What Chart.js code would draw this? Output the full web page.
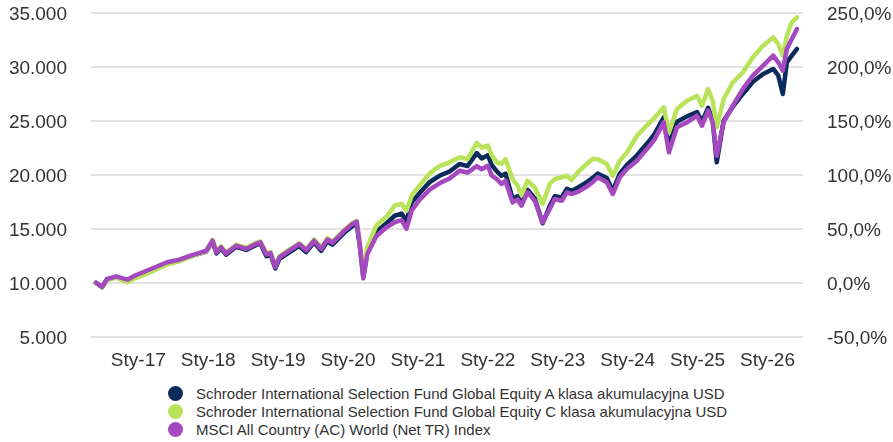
<!DOCTYPE html>
<html>
<head>
<meta charset="utf-8">
<script src="https://cdn.jsdelivr.net/npm/chart.js@4/dist/chart.umd.min.js"></script>
<style>
  html, body { margin: 0; padding: 0; background: #fff; }
  #wrap { position: relative; width: 893px; height: 442px; overflow: hidden; }
  #box { position: absolute; left: 0; top: 0; width: 893px; height: 378px; }
  #legend { position: absolute; left: 167.5px; top: 384.3px; font-family: 'Liberation Sans', Arial, sans-serif; font-size: 15px; color: #333; }
  .row { display: flex; align-items: center; height: 18px; white-space: nowrap; }
  .dot { width: 15px; height: 15px; border-radius: 50%; margin-right: 13.5px; flex: none; }
</style>
</head>
<body>
<div id="wrap">
  <div id="box"><canvas id="c"></canvas></div>
  <div id="legend"></div>
</div>
<script>
// ---- data ----
const seriesNames = [
  'Schroder International Selection Fund Global Equity A klasa akumulacyjna USD',
  'Schroder International Selection Fund Global Equity C klasa akumulacyjna USD',
  'MSCI All Country (AC) World (Net TR) Index'
];
const seriesColors = ['#0b2b5c', '#b8e35a', '#a449bf'];

const dates = [
  '2016-05-24','2016-06-25','2016-07-21','2016-09-07','2016-11-04','2016-12-21',
  '2017-03-08','2017-05-31','2017-08-02','2017-10-09','2017-12-22',
  '2018-01-23','2018-02-13','2018-03-09','2018-04-04','2018-05-27','2018-07-18','2018-09-09','2018-09-30','2018-11-01','2018-11-22','2018-12-17',
  '2019-01-08','2019-02-28','2019-04-21','2019-05-27','2019-07-08','2019-08-14','2019-09-15','2019-10-11','2019-11-01','2019-12-13',
  '2020-01-24','2020-02-15','2020-03-01','2020-03-21','2020-04-11','2020-05-28','2020-07-20','2020-09-01','2020-10-07','2020-11-02','2020-11-29',
  '2021-01-10','2021-03-02','2021-04-23','2021-06-15','2021-08-06','2021-09-17','2021-11-04','2021-11-30',
  '2022-01-01','2022-01-21','2022-02-17','2022-03-13','2022-04-03','2022-05-10','2022-06-05','2022-06-26','2022-07-27','2022-09-03','2022-10-14','2022-11-20','2022-12-16',
  '2023-01-22','2023-02-18','2023-03-14','2023-04-15','2023-06-01','2023-07-02','2023-07-28','2023-09-14','2023-10-15','2023-11-21','2023-12-28',
  '2024-02-19','2024-04-26','2024-05-22','2024-07-08','2024-08-04','2024-09-15','2024-11-07','2024-12-29',
  '2025-01-24','2025-02-25','2025-03-21','2025-04-11','2025-05-17','2025-07-04','2025-08-26','2025-10-17','2025-12-09',
  '2026-01-31','2026-02-26','2026-03-22','2026-04-12','2026-05-08','2026-06-04'
];

const fundA = [
  10000,9580,10300,10520,10150,10600,
  11150,11780,12040,12480,12880,
  13830,12720,13200,12600,13330,13030,13500,13640,12450,12600,11330,
  12200,12800,13400,12840,13740,12950,13840,13520,13880,14640,
  15250,15450,13600,10550,12900,14700,15500,16200,16400,15700,17440,
  18300,19300,19900,20300,20990,20800,22000,21500,
  21800,20900,20300,19900,20100,17800,18000,17300,18600,17800,15500,17100,18000,
  17900,18700,18500,18800,19300,19700,20100,19700,18500,20100,20900,
  21800,23200,23800,25300,22700,24900,25400,25800,
  24900,26200,25000,21150,25000,26300,27500,28600,29330,
  29790,29200,27470,30400,31020,31640
];

const fundC = [
  10000,9560,10250,10470,10050,10450,
  11000,11680,11990,12450,12900,
  13950,12900,13380,12800,13520,13250,13700,13820,12700,12850,11560,
  12450,13060,13650,13100,14000,13250,14100,13800,14150,14900,
  15520,15720,13900,10800,13300,15300,16100,17130,17300,16670,18060,
  19000,20100,20800,21150,21610,21450,22950,22500,
  22690,21800,21150,21000,21450,19600,19000,18100,19440,18800,17290,19140,19600,
  19760,19900,19500,20220,21000,21450,21450,21000,19910,21300,22070,
  23610,24850,25300,26240,23930,26080,26850,27310,
  26390,27940,26850,24390,27010,28550,29480,30870,31950,
  32720,32100,31020,32870,34110,34570
];

const msciAcwi = [
  10000,9600,10340,10590,10280,10710,
  11270,11890,12130,12560,12960,
  13900,12810,13280,12700,13430,13120,13600,13740,12600,12750,11450,
  12350,12960,13580,13000,13890,13120,14000,13700,14050,14820,
  15440,15650,13740,10400,12660,14300,15130,15600,15800,15000,16670,
  17700,18600,19200,19650,20370,20200,20800,20500,
  20830,19910,19600,19140,19440,17440,17700,17130,18370,17590,15590,16820,17750,
  17590,18370,18210,18400,18900,19300,19760,19300,18210,19760,20530,
  21300,22700,23300,24850,22070,24390,24850,25460,
  24540,25930,24850,21760,24850,26390,27940,29170,30100,
  31020,30410,29630,31640,32570,33490
];

const tickYears = [2017,2018,2019,2020,2021,2022,2023,2024,2025,2026];
const tickPrefix = 'Sty-';
const leftTicks = [5000,10000,15000,20000,25000,30000,35000];
const rightTicks = [-50,0,50,100,150,200,250];

// ---- helpers ----
function toYear(s) {
  const [y, m, d] = s.split('-').map(Number);
  const t = Date.UTC(y, m - 1, d);
  const t0 = Date.UTC(y, 0, 1), t1 = Date.UTC(y + 1, 0, 1);
  return y + (t - t0) / (t1 - t0);
}
const xs = dates.map(toYear);
function pts(arr) { return arr.map((v, i) => ({ x: xs[i], y: v })); }
function fmtThousands(v) { return String(v).replace(/\B(?=(\d{3})+(?!\d))/g, '.'); }

const allSeries = [fundA, fundC, msciAcwi];
const drawOrder = [3, 2, 1]; // purple on top

Chart.defaults.font.family = "'Liberation Sans', Arial, sans-serif";
Chart.defaults.font.size = 19;
Chart.defaults.color = '#333333';

const datasets = allSeries.map((arr, i) => ({
  label: seriesNames[i],
  data: pts(arr),
  borderColor: seriesColors[i],
  backgroundColor: seriesColors[i],
  borderWidth: 4.5,
  pointRadius: 0,
  tension: 0,
  borderJoinStyle: 'round',
  borderCapStyle: 'round',
  order: drawOrder[i],
  yAxisID: 'y'
}));

function fitVertical(width) {
  return (axis) => {
    axis.width = width;
    axis.paddingTop = 0;
    axis.paddingBottom = 0;
  };
}

new Chart(document.getElementById('c'), {
  type: 'line',
  data: { datasets },
  options: {
    responsive: true,
    maintainAspectRatio: false,
    animation: false,
    layout: { padding: { top: 12.7, left: 0, right: 0, bottom: 0 } },
    plugins: { legend: { display: false }, tooltip: { enabled: false } },
    scales: {
      x: {
        type: 'linear',
        min: 2016.323,
        max: 2026.508,
        grid: { display: false, drawTicks: false },
        border: { display: false },
        afterBuildTicks: (axis) => { axis.ticks = tickYears.map(v => ({ value: v })); },
        afterFit: (axis) => { axis.height = 41.3; axis.paddingLeft = 0; axis.paddingRight = 0; },
        ticks: {
          padding: 13,
          maxRotation: 0,
          autoSkip: false,
          callback: (v) => tickPrefix + String(v).slice(2)
        }
      },
      y: {
        position: 'left',
        min: 5000,
        max: 35000,
        afterBuildTicks: (axis) => { axis.ticks = leftTicks.map(v => ({ value: v })); },
        afterFit: fitVertical(91),
        grid: { color: '#e3e3e3', lineWidth: 2, drawTicks: false },
        border: { display: false },
        ticks: { padding: 24, labelOffset: 2, callback: (v) => fmtThousands(v) }
      },
      y2: {
        position: 'right',
        min: -50,
        max: 250,
        afterBuildTicks: (axis) => { axis.ticks = rightTicks.map(v => ({ value: v })); },
        afterFit: fitVertical(90),
        grid: { display: false, drawTicks: false },
        border: { display: false },
        ticks: { padding: 24, labelOffset: 2, callback: (v) => v.toFixed(1).replace('.', ',') + '%' }
      }
    }
  }
});

// ---- legend ----
const lg = document.getElementById('legend');
seriesNames.forEach((name, i) => {
  const row = document.createElement('div');
  row.className = 'row';
  const dot = document.createElement('span');
  dot.className = 'dot';
  dot.style.background = seriesColors[i];
  const txt = document.createElement('span');
  txt.textContent = name;
  row.appendChild(dot);
  row.appendChild(txt);
  lg.appendChild(row);
});
</script>
</body>
</html>
